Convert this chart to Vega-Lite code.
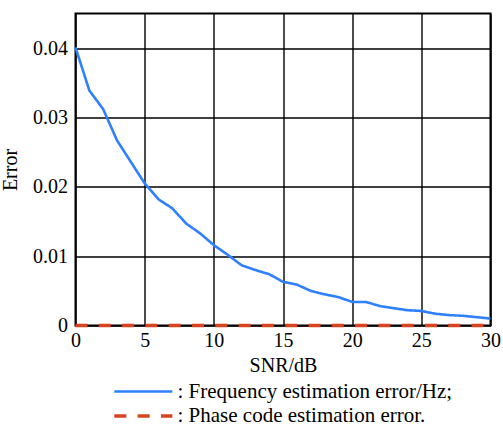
{
  "$schema": "https://vega.github.io/schema/vega-lite/v6.json",
  "width": 415,
  "height": 312,
  "autosize": {"type": "none"},
  "padding": {"left": 75.5, "top": 13.5, "right": 12.5, "bottom": 100.5},
  "background": "white",
  "config": {
    "view": {"stroke": "#000", "strokeWidth": 2},
    "font": "Liberation Serif",
    "axis": {
      "grid": true, "gridColor": "#000", "gridWidth": 1.4, "gridOpacity": 1,
      "ticks": false, "domain": false,
      "labelFont": "Liberation Serif", "labelFontSize": 20, "labelColor": "#000",
      "titleFont": "Liberation Serif", "titleFontSize": 20, "titleFontWeight": "normal", "titleColor": "#000"
    }
  },
  "data": {"values": [
    {"snr": 0, "err": 0.0401, "series": ": Frequency estimation error/Hz;"},
    {"snr": 1, "err": 0.0339, "series": ": Frequency estimation error/Hz;"},
    {"snr": 2, "err": 0.0312, "series": ": Frequency estimation error/Hz;"},
    {"snr": 3, "err": 0.0267, "series": ": Frequency estimation error/Hz;"},
    {"snr": 4, "err": 0.0236, "series": ": Frequency estimation error/Hz;"},
    {"snr": 5, "err": 0.0205, "series": ": Frequency estimation error/Hz;"},
    {"snr": 6, "err": 0.0182, "series": ": Frequency estimation error/Hz;"},
    {"snr": 7, "err": 0.0169, "series": ": Frequency estimation error/Hz;"},
    {"snr": 8, "err": 0.0147, "series": ": Frequency estimation error/Hz;"},
    {"snr": 9, "err": 0.0133, "series": ": Frequency estimation error/Hz;"},
    {"snr": 10, "err": 0.0116, "series": ": Frequency estimation error/Hz;"},
    {"snr": 11, "err": 0.0102, "series": ": Frequency estimation error/Hz;"},
    {"snr": 12, "err": 0.0087, "series": ": Frequency estimation error/Hz;"},
    {"snr": 13, "err": 0.0080, "series": ": Frequency estimation error/Hz;"},
    {"snr": 14, "err": 0.0074, "series": ": Frequency estimation error/Hz;"},
    {"snr": 15, "err": 0.0063, "series": ": Frequency estimation error/Hz;"},
    {"snr": 16, "err": 0.0059, "series": ": Frequency estimation error/Hz;"},
    {"snr": 17, "err": 0.0050, "series": ": Frequency estimation error/Hz;"},
    {"snr": 18, "err": 0.0045, "series": ": Frequency estimation error/Hz;"},
    {"snr": 19, "err": 0.0041, "series": ": Frequency estimation error/Hz;"},
    {"snr": 20, "err": 0.0034, "series": ": Frequency estimation error/Hz;"},
    {"snr": 21, "err": 0.0034, "series": ": Frequency estimation error/Hz;"},
    {"snr": 22, "err": 0.0028, "series": ": Frequency estimation error/Hz;"},
    {"snr": 23, "err": 0.0025, "series": ": Frequency estimation error/Hz;"},
    {"snr": 24, "err": 0.0022, "series": ": Frequency estimation error/Hz;"},
    {"snr": 25, "err": 0.0021, "series": ": Frequency estimation error/Hz;"},
    {"snr": 26, "err": 0.0017, "series": ": Frequency estimation error/Hz;"},
    {"snr": 27, "err": 0.0015, "series": ": Frequency estimation error/Hz;"},
    {"snr": 28, "err": 0.0014, "series": ": Frequency estimation error/Hz;"},
    {"snr": 29, "err": 0.0012, "series": ": Frequency estimation error/Hz;"},
    {"snr": 30, "err": 0.0010, "series": ": Frequency estimation error/Hz;"},
    {"snr": 0, "err": 0, "series": ": Phase code estimation error."},
    {"snr": 1, "err": 0, "series": ": Phase code estimation error."},
    {"snr": 2, "err": 0, "series": ": Phase code estimation error."},
    {"snr": 3, "err": 0, "series": ": Phase code estimation error."},
    {"snr": 4, "err": 0, "series": ": Phase code estimation error."},
    {"snr": 5, "err": 0, "series": ": Phase code estimation error."},
    {"snr": 6, "err": 0, "series": ": Phase code estimation error."},
    {"snr": 7, "err": 0, "series": ": Phase code estimation error."},
    {"snr": 8, "err": 0, "series": ": Phase code estimation error."},
    {"snr": 9, "err": 0, "series": ": Phase code estimation error."},
    {"snr": 10, "err": 0, "series": ": Phase code estimation error."},
    {"snr": 11, "err": 0, "series": ": Phase code estimation error."},
    {"snr": 12, "err": 0, "series": ": Phase code estimation error."},
    {"snr": 13, "err": 0, "series": ": Phase code estimation error."},
    {"snr": 14, "err": 0, "series": ": Phase code estimation error."},
    {"snr": 15, "err": 0, "series": ": Phase code estimation error."},
    {"snr": 16, "err": 0, "series": ": Phase code estimation error."},
    {"snr": 17, "err": 0, "series": ": Phase code estimation error."},
    {"snr": 18, "err": 0, "series": ": Phase code estimation error."},
    {"snr": 19, "err": 0, "series": ": Phase code estimation error."},
    {"snr": 20, "err": 0, "series": ": Phase code estimation error."},
    {"snr": 21, "err": 0, "series": ": Phase code estimation error."},
    {"snr": 22, "err": 0, "series": ": Phase code estimation error."},
    {"snr": 23, "err": 0, "series": ": Phase code estimation error."},
    {"snr": 24, "err": 0, "series": ": Phase code estimation error."},
    {"snr": 25, "err": 0, "series": ": Phase code estimation error."},
    {"snr": 26, "err": 0, "series": ": Phase code estimation error."},
    {"snr": 27, "err": 0, "series": ": Phase code estimation error."},
    {"snr": 28, "err": 0, "series": ": Phase code estimation error."},
    {"snr": 29, "err": 0, "series": ": Phase code estimation error."},
    {"snr": 30, "err": 0, "series": ": Phase code estimation error."}
  ]},
  "mark": {"type": "line", "clip": false},
  "encoding": {
    "x": {
      "field": "snr", "type": "quantitative",
      "scale": {"domain": [0, 30], "nice": false},
      "axis": {"values": [0, 5, 10, 15, 20, 25, 30], "title": "SNR/dB", "labelPadding": 5, "titlePadding": 5, "labelFlush": false}
    },
    "y": {
      "field": "err", "type": "quantitative",
      "scale": {"domain": [0, 0.045], "nice": false, "zero": true},
      "axis": {"values": [0, 0.01, 0.02, 0.03, 0.04], "format": ".2~f", "title": "Error", "labelPadding": 8, "titlePadding": 12, "labelFlush": false}
    },
    "color": {
      "field": "series", "type": "nominal",
      "scale": {"domain": [": Frequency estimation error/Hz;", ": Phase code estimation error."], "range": ["#2f80ff", "#d9431e"]},
      "legend": {
        "orient": "none", "legendX": 37, "legendY": 367, "direction": "vertical", "title": null,
        "symbolType": "M-1,0H5", "symbolSize": 374, "symbolStrokeWidth": 3,
        "labelFont": "Liberation Serif", "labelFontSize": 21, "labelColor": "#000", "labelOffset": 42, "labelLimit": 400, "rowPadding": 3
      }
    },
    "strokeDash": {
      "field": "series", "type": "nominal",
      "scale": {"domain": [": Frequency estimation error/Hz;", ": Phase code estimation error."], "range": [[1, 0], [12, 11.3]]},
      "legend": {
        "orient": "none", "legendX": 37, "legendY": 367, "direction": "vertical", "title": null,
        "symbolType": "M-1,0H5", "symbolSize": 374, "symbolStrokeWidth": 3,
        "labelFont": "Liberation Serif", "labelFontSize": 21, "labelColor": "#000", "labelOffset": 42, "labelLimit": 400, "rowPadding": 3
      }
    },
    "strokeWidth": {
      "field": "series", "type": "nominal",
      "scale": {"domain": [": Frequency estimation error/Hz;", ": Phase code estimation error."], "range": [2.6, 3.4]},
      "legend": null
    }
  }
}
